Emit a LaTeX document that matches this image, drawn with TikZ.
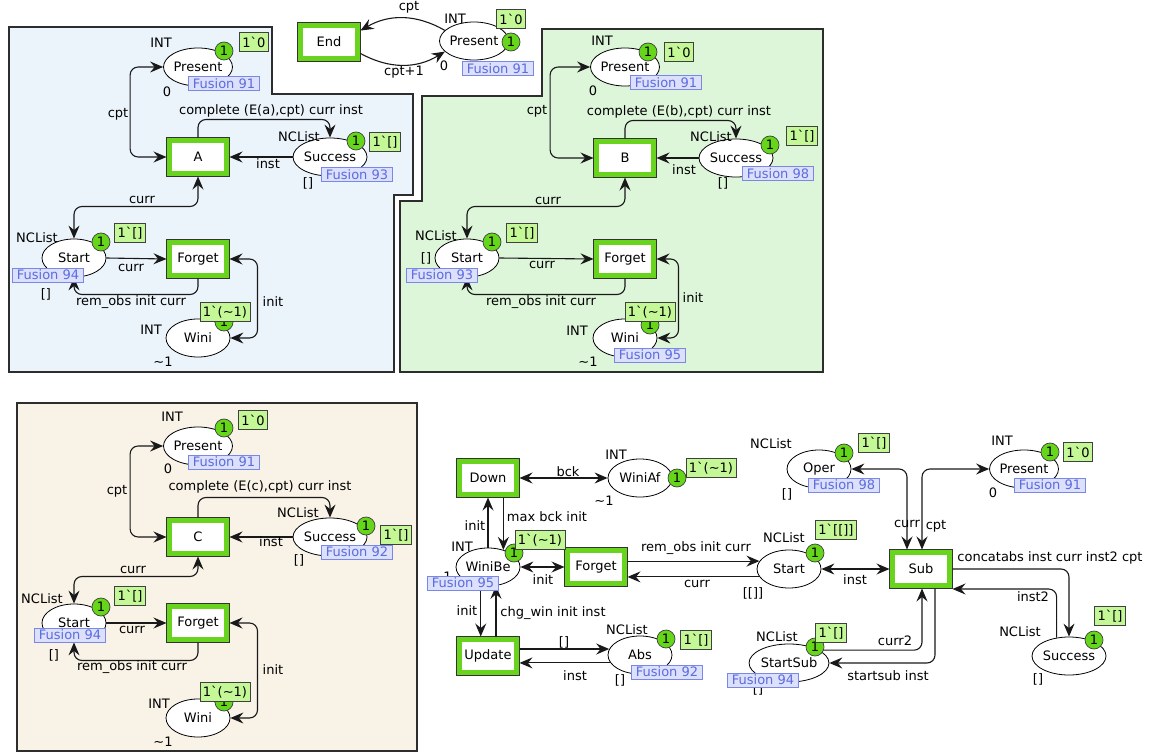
\documentclass[tikz,border=0pt]{standalone}
\usepackage{fontspec}
\setmainfont{DejaVu Sans}
\usetikzlibrary{shapes.geometric,arrows.meta,calc}
\definecolor{tgreen}{RGB}{104,212,30}
\definecolor{tokgreen}{RGB}{102,214,26}
\definecolor{markgreen}{RGB}{196,247,150}
\definecolor{fusfill}{RGB}{220,224,250}
\definecolor{fusdraw}{RGB}{120,136,232}
\definecolor{fustext}{RGB}{90,108,224}
\definecolor{bluebg}{RGB}{236,244,251}
\definecolor{greenbg}{RGB}{221,245,217}
\definecolor{beigebg}{RGB}{248,242,231}
\definecolor{pborder}{RGB}{45,45,45}
\newcommand\bt{\textasciigrave}
\newcommand\tl{\textasciitilde}
\newcommand\lab[3]{\node[lbl] (#1) at (#2) {#3};}
\newcommand\tok[2]{\node[tokencirc] (#1) at (#2) {1};}
\newcommand\mrk[3]{\node[markbox] (#1) at (#2) {#3};}
\newcommand\fus[3]{\node[fusbox] (#1) at (#2) {#3};}
\tikzset{
  place/.style={ellipse, draw=black, fill=white, line width=0.8pt, minimum width=64pt, minimum height=38pt, inner sep=0pt},
  trans/.style={rectangle, fill=white, draw=tgreen, line width=4.5pt, minimum width=57pt, minimum height=33pt, inner sep=0pt, outer sep=3pt, preaction={draw=black!80, line width=6.5pt}},
  tokencirc/.style={circle, fill=tokgreen, draw=black!75, line width=0.7pt, minimum size=18pt, inner sep=0pt},
  markbox/.style={rectangle, fill=markgreen, draw=black!75, line width=0.8pt, inner xsep=3pt, inner ysep=1pt, minimum height=19pt},
  fusbox/.style={rectangle, fill=fusfill, draw=fusdraw, line width=1pt, text=fustext, inner sep=0pt, minimum width=71pt, minimum height=14pt},
  lbl/.style={inner sep=0pt},
  cpntip/.tip={Stealth[length=13pt,width=11pt,inset=4.5pt]},
  arc/.style={draw=black!90, line width=1.1pt, rounded corners=8pt, -cpntip},
  biarc/.style={draw=black!90, line width=1.1pt, rounded corners=8pt, cpntip-cpntip},
  panel/.style={draw=pborder, line width=1.2pt},
}
\begin{document}
\begin{tikzpicture}[x=1pt,y=-1pt,font=\fontsize{13}{15}\selectfont]
\useasboundingbox (0,0) rectangle (1151,754);
% panels
\filldraw[panel, fill=bluebg] (9,27) -- (272,27) -- (272,94) -- (413,94) -- (413,195) -- (394,195) -- (394,372) -- (9,372) -- cycle;
\filldraw[panel, fill=greenbg] (542,29) -- (823,29) -- (823,372) -- (400,372) -- (400,201) -- (422,201) -- (422,96) -- (542,96) -- cycle;
\filldraw[panel, fill=beigebg] (17,403) rectangle (417,751);

% ---------- top ----------
\node[trans] (tEnd) at (329,42) {End};
\node[place] (tPres) at (474,41) {Present};
\draw[arc] (tPres.160) to[bend right=30] (tEnd.20);
\draw[arc] (tEnd.-20) to[bend right=30] (tPres.200);
\lab{tINT}{455,19}{INT}
\lab{t0}{444,66}{0}
\tok{tTok}{511,42}
\mrk{tMk}{511,19}{1\bt0}
\fus{tFus}{498,69}{Fusion 91}
\lab{tL1}{409,7}{cpt}
\lab{tL2}{404,72}{cpt+1}

% ---------- panel A ----------
\node[place] (aPres) at (198,67) {Present};
\node[trans] (aT) at (198,157) {A};
\node[place] (aSucc) at (330,157) {Success};
\node[place] (aStart) at (74,258) {Start};
\node[trans] (aF) at (198,259) {Forget};
\node[place] (aWini) at (198,338) {Wini};
\draw[biarc] (aPres.west) -- ++(-33,0) |- (aT.west);
\draw[arc] (aT.north) -- ++(0,-18) -| (aSucc.north);
\draw[arc] (aSucc.west) -- (aT.east);
\draw[biarc] (aT.south) -- ++(0,30) -| (aStart.north);
\draw[arc] (aStart.east) -- (aF.west);
\draw[arc] (aF.south) -- ++(0,16) -| (aStart.south);
\draw[biarc] (aF.east) -- ++(28,0) |- (aWini.east);
\lab{aL1}{161,43}{INT}
\lab{aL2}{167,92}{0}
\tok{aTk1}{224,51}
\mrk{aMk1}{254,42}{1\bt0}
\fus{aFu1}{224,84}{Fusion 91}
\lab{aL3}{118,114}{cpt}
\lab{aL4}{271,111}{complete (E(a),cpt) curr inst}
\lab{aL5}{268,164}{inst}
\lab{aL6}{299,137}{NCList}
\tok{aTk2}{356,141}
\mrk{aMk2}{385,142}{1\bt[]}
\fus{aFu2}{357,175}{Fusion 93}
\lab{aL7}{308,183}{[]}
\lab{aL8}{142,200}{curr}
\lab{aL9}{37,238}{NCList}
\tok{aTk3}{101,242}
\mrk{aMk3}{130,233}{1\bt[]}
\fus{aFu3}{48,275}{Fusion 94}
\lab{aL10}{46,294}{[]}
\lab{aL11}{131,268}{curr}
\lab{aL12}{131,302}{rem\_obs init curr}
\lab{aL13}{273,302}{init}
\lab{aL14}{151,330}{INT}
\lab{aL15}{163,362}{\tl1}
\tok{aTk4}{224,322}
\mrk{aMk4}{225,312}{1\bt(\tl1)}

% ---------- panel B ----------
\node[place] (bPres) at (625,67) {Present};
\node[trans] (bT) at (625,158) {B};
\node[place] (bSucc) at (736,158) {Success};
\node[place] (bStart) at (467,258) {Start};
\node[trans] (bF) at (625,259) {Forget};
\node[place] (bWini) at (625,338) {Wini};
\draw[biarc] (bPres.west) -- ++(-40,0) |- (bT.west);
\draw[arc] (bT.north) -- ++(0,-18) -| (bSucc.north);
\draw[arc] (bSucc.west) -- (bT.east);
\draw[biarc] (bT.south) -- ++(0,29) -| (bStart.north);
\draw[arc] (bStart.east) -- (bF.west);
\draw[arc] (bF.south) -- ++(0,16) -| (bStart.south);
\draw[biarc] (bF.east) -- ++(22,0) |- (bWini.east);
\lab{bL1}{602,41}{INT}
\lab{bL2}{593,91}{0}
\tok{bTk1}{648,52}
\mrk{bMk1}{679,52}{1\bt0}
\fus{bFu1}{666,83}{Fusion 91}
\lab{bL3}{537,111}{cpt}
\lab{bL4}{679,112}{complete (E(b),cpt) curr inst}
\lab{bL5}{684,170}{inst}
\lab{bL6}{711,137}{NCList}
\tok{bTk2}{770,145}
\mrk{bMk2}{802,136}{1\bt[]}
\fus{bFu2}{778,174}{Fusion 98}
\lab{bL7}{723,183}{[]}
\lab{bL8}{548,201}{curr}
\lab{bL9}{436,236}{NCList}
\tok{bTk3}{492,242}
\mrk{bMk3}{522,233}{1\bt[]}
\lab{bL10}{426,258}{[]}
\fus{bFu3}{442,275}{Fusion 93}
\lab{bL11}{542,265}{curr}
\lab{bL12}{541,302}{rem\_obs init curr}
\lab{bL13}{693,298}{init}
\lab{bL14}{577,331}{INT}
\lab{bL15}{588,362}{\tl1}
\tok{bTk4}{650,325}
\mrk{bMk4}{650,312}{1\bt(\tl1)}
\fus{bFu4}{650,355}{Fusion 95}

% ---------- panel C ----------
\node[place] (cPres) at (198,446) {Present};
\node[trans] (cT) at (198,537) {C};
\node[place] (cSucc) at (330,537) {Success};
\node[place] (cStart) at (74,623) {Start};
\node[trans] (cF) at (198,623) {Forget};
\node[place] (cWini) at (198,718) {Wini};
\draw[biarc] (cPres.west) -- ++(-33,0) |- (cT.west);
\draw[arc] (cT.north) -- ++(0,-20) -| (cSucc.north);
\draw[arc] (cSucc.west) -- (cT.east);
\draw[biarc] (cT.south) -- ++(0,20) -| (cStart.north);
\draw[arc] (cStart.east) -- (cF.west);
\draw[arc] (cF.south) -- ++(0,18) -| (cStart.south);
\draw[biarc] (cF.east) -- ++(28,0) |- (cWini.east);
\lab{cL1}{172,417}{INT}
\lab{cL2}{168,469}{0}
\tok{cTk1}{224,428}
\mrk{cMk1}{253,420}{1\bt0}
\fus{cFu1}{224,462}{Fusion 91}
\lab{cL3}{117,491}{cpt}
\lab{cL4}{260,487}{complete (E(c),cpt) curr inst}
\lab{cL5}{271,542}{inst}
\lab{cL6}{298,513}{NCList}
\tok{cTk2}{366,526}
\mrk{cMk2}{396,535}{1\bt[]}
\fus{cFu2}{357,552}{Fusion 92}
\lab{cL7}{299,560}{[]}
\lab{cL8}{133,570}{curr}
\lab{cL9}{42,599}{NCList}
\tok{cTk3}{101,607}
\mrk{cMk3}{130,596}{1\bt[]}
\fus{cFu3}{70,635}{Fusion 94}
\lab{cL10}{54,655}{[]}
\lab{cL11}{132,630}{curr}
\lab{cL12}{132,667}{rem\_obs init curr}
\lab{cL13}{273,670}{init}
\lab{cL14}{159,704}{INT}
\lab{cL15}{163,742}{\tl1}
\tok{cTk4}{224,702}
\mrk{cMk4}{225,692}{1\bt(\tl1)}

% ---------- bottom right ----------
\node[trans] (dDown) at (488,478) {Down};
\node[place] (dWaf) at (640,478) {WiniAf};
\node[place] (dWbe) at (488,567) {WiniBe};
\node[trans] (dF) at (596,567) {Forget};
\node[place] (dStart) at (789,569) {Start};
\node[trans] (dSub) at (921,569) {Sub};
\node[place] (dOper) at (819,469) {Oper};
\node[place] (dPres) at (1024,469) {Present};
\node[place] (dSucc) at (1069,656) {Success};
\node[place] (dSS) at (789,663) {StartSub};
\node[trans] (dUpd) at (488,656) {Update};
\node[place] (dAbs) at (640,655) {Abs};
\draw[biarc] (dDown.east) -- (dWaf.west);
\draw[arc] (dWbe.north) -- (dDown.south);
\draw[arc] (dDown.south -| dWbe.48) -- (dWbe.48);
\draw[biarc] (dWbe.east) -- (dF.west);
\draw[arc] (dF.east |- dStart.165) -- (dStart.165);
\draw[arc] (dStart.195) -- (dStart.195 -| dF.east);
\draw[biarc] (dStart.east) -- (dSub.west);
\draw[biarc] (dOper.east) -| ([xshift=-14pt]dSub.north);
\draw[biarc] ([xshift=1pt]dSub.north) |- (dPres.west);
\draw[arc] (dSub.east) -| (dSucc.north);
\draw[arc] (dSucc.124) |- ([yshift=-20pt]dSub.east);
\draw[arc] (dSS.23) -| ([xshift=1pt]dSub.south);
\draw[arc] ([xshift=14pt]dSub.south) |- (dSS.east);
\draw[arc] (dWbe.249) -- (dWbe.249 |- dUpd.north);
\draw[arc] (dWbe.293 |- dUpd.north) -- (dWbe.293);
\draw[arc] (dAbs.169 -| dUpd.east) -- (dAbs.169);
\draw[arc] (dAbs.195) -- (dAbs.195 -| dUpd.east);
% WiniAf
\lab{dL1}{616,455}{INT}
\lab{dL2}{604,501}{\tl1}
\tok{dTk1}{677,478}
\mrk{dMk1}{711,468}{1\bt(\tl1)}
\lab{dL3}{568,472}{bck}
% WiniBe
\lab{dL4}{442,577}{\tl1}
\lab{dL5}{462,547}{INT}
\tok{dTk2}{514,553}
\mrk{dMk2}{540,540}{1\bt(\tl1)}
\fus{dFu2}{463,583}{Fusion 95}
\lab{dL6}{475,526}{init}
\lab{dL7}{547,517}{max bck init}
\lab{dL8}{543,580}{init}
% Start
\lab{dL9}{696,548}{rem\_obs init curr}
\lab{dL10}{697,584}{curr}
\lab{dL11}{784,538}{NCList}
\tok{dTk3}{815,553}
\mrk{dMk3}{836,530}{1\bt[[]]}
\lab{dL12}{753,593}{[[]]}
\lab{dL13}{855,580}{inst}
% Oper
\lab{dL14}{771,444}{NCList}
\tok{dTk4}{844,453}
\mrk{dMk4}{874,443}{1\bt[]}
\fus{dFu4}{844,485}{Fusion 98}
\lab{dL15}{787,494}{[]}
\lab{dL16}{907,524}{curr}
% Present
\lab{dL17}{1002,441}{INT}
\tok{dTk5}{1050,452}
\mrk{dMk5}{1078,452}{1\bt0}
\fus{dFu5}{1050,485}{Fusion 91}
\lab{dL18}{993,493}{0}
\lab{dL19}{936,526}{cpt}
% Success
\lab{dL20}{1050,558}{concatabs inst curr inst2 cpt}
\lab{dL21}{1033,597}{inst2}
\lab{dL22}{1020,632}{NCList}
\tok{dTk6}{1094,640}
\mrk{dMk6}{1110,616}{1\bt[]}
\lab{dL23}{1038,679}{[]}
% StartSub
\lab{dL24}{895,641}{curr2}
\lab{dL25}{888,676}{startsub inst}
\lab{dL26}{777,637}{NCList}
\lab{dL27}{758,689}{[]}
\tok{dTk7}{815,647}
\mrk{dMk7}{831,633}{1\bt[]}
\fus{dFu7}{763,680}{Fusion 94}
% Update / Abs
\lab{dL28}{467,611}{init}
\lab{dL29}{553,613}{chg\_win init inst}
\lab{dL30}{564,642}{[]}
\lab{dL31}{575,676}{inst}
\lab{dL32}{627,630}{NCList}
\tok{dTk8}{666,639}
\mrk{dMk8}{696,640}{1\bt[]}
\fus{dFu8}{667,672}{Fusion 92}
\lab{dL33}{620,680}{[]}
\end{tikzpicture}
\end{document}
